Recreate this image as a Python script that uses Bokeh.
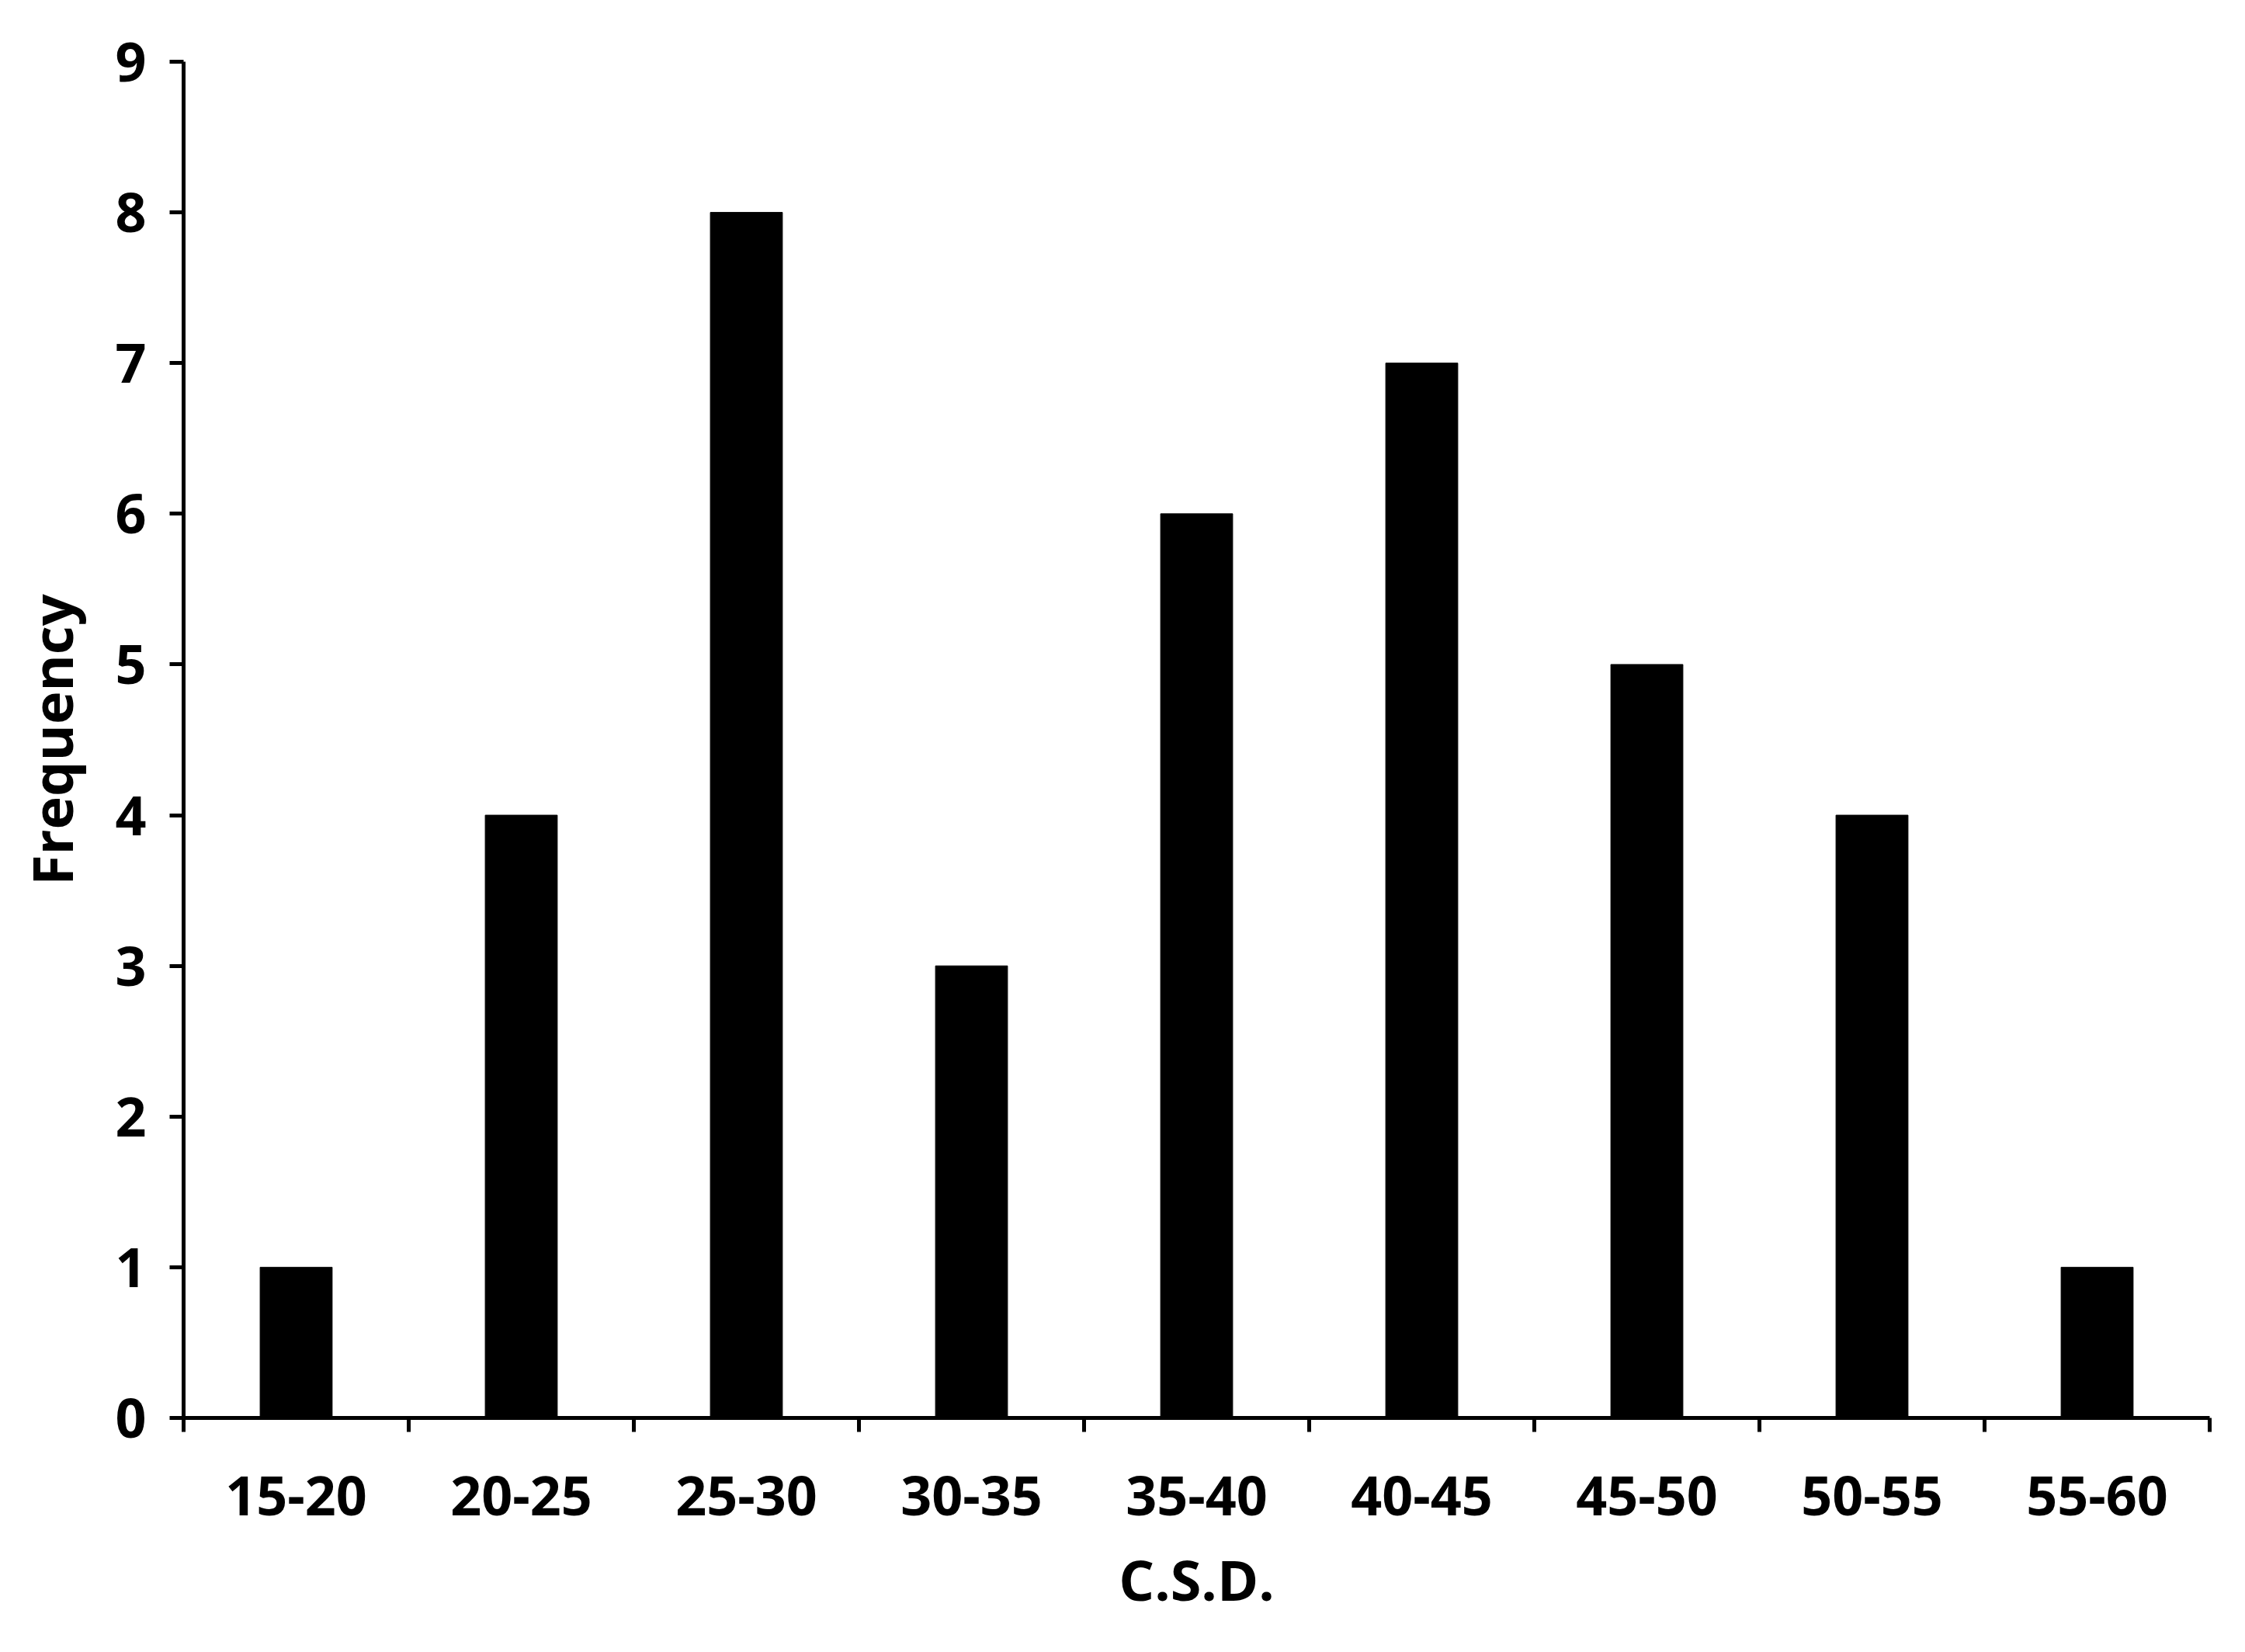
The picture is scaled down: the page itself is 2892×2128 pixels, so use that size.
from bokeh.plotting import figure
from bokeh.models import FixedTicker, ColumnDataSource, Range1d
from bokeh.embed import file_html
from bokeh.resources import INLINE

categories = ["15-20", "20-25", "25-30", "30-35", "35-40", "40-45", "45-50", "50-55", "55-60"]
frequency = [1, 4, 8, 3, 6, 7, 5, 4, 1]
y_ticks = [0, 1, 2, 3, 4, 5, 6, 7, 8, 9]

n = len(categories)
centers = [i + 0.5 for i in range(n)]
src = ColumnDataSource(dict(x=centers, top=frequency, cat=categories))

FONT = "Open Sans"

p = figure(width=2876, height=2112, output_backend="svg", toolbar_location=None,
           x_range=Range1d(0, n), y_range=Range1d(0, 9),
           min_border_left=236, min_border_right=30, min_border_top=79, min_border_bottom=286)
p.background_fill_color = "white"
p.border_fill_color = "white"
p.outline_line_color = None
p.grid.visible = False

p.vbar(x="x", top="top", width=0.32, bottom=0, source=src,
       fill_color="black", line_color="black", line_width=1)

# x axis
xa = p.xaxis[0]
xa.ticker = FixedTicker(ticks=centers, minor_ticks=list(range(n + 1)))
xa.major_label_overrides = {c: lab for c, lab in zip(centers, categories)}
xa.major_tick_line_color = None
xa.major_tick_out = 0
xa.major_tick_in = 0
xa.minor_tick_out = 18
xa.minor_tick_in = 0
xa.minor_tick_line_width = 5
xa.minor_tick_line_color = "black"
xa.axis_line_width = 5
xa.axis_line_color = "black"
xa.major_label_standoff = 56
xa.major_label_text_font = FONT
xa.major_label_text_font_style = "bold"
xa.major_label_text_font_size = "70px"
xa.major_label_text_color = "black"
xa.axis_label = "C.S.D."
xa.axis_label_text_font = FONT
xa.axis_label_text_font_style = "bold"
xa.axis_label_text_font_size = "72px"
xa.axis_label_text_color = "black"
xa.axis_label_standoff = 30

# y axis
ya = p.yaxis[0]
ya.ticker = FixedTicker(ticks=y_ticks, minor_ticks=[])
ya.major_tick_out = 18
ya.major_tick_in = 0
ya.major_tick_line_width = 5
ya.major_tick_line_color = "black"
ya.minor_tick_line_color = None
ya.axis_line_width = 5
ya.axis_line_color = "black"
ya.major_label_standoff = 30
ya.major_label_text_font = FONT
ya.major_label_text_font_style = "bold"
ya.major_label_text_font_size = "70px"
ya.major_label_text_color = "black"
ya.axis_label = "Frequency"
ya.axis_label_text_font = FONT
ya.axis_label_text_font_style = "bold"
ya.axis_label_text_font_size = "72px"
ya.axis_label_text_color = "black"
ya.axis_label_standoff = 30

open("out.html", "w").write(file_html(p, INLINE))
